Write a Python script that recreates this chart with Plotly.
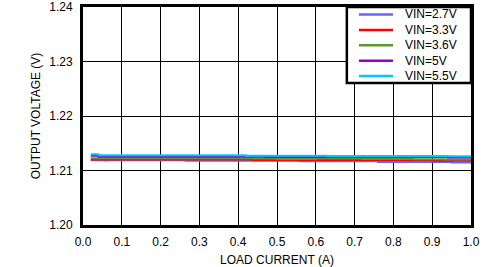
import plotly.graph_objects as go

names = ["VIN=2.7V", "VIN=3.3V", "VIN=3.6V", "VIN=5V", "VIN=5.5V"]
colors = ["#6464ff", "#ff0000", "#5f9632", "#9600c8", "#00c8ff"]

x_27 = [0.02, 0.054, 0.064, 0.265, 0.56, 0.76, 0.95, 1.0]
y_27 = [1.21188, 1.21182, 1.21188, 1.21180, 1.21168, 1.21158, 1.21148, 1.21148]

x_33 = [0.02, 0.438, 0.90, 1.0]
y_33 = [1.21200, 1.21192, 1.21180, 1.21180]

x_36 = [0.02, 0.44, 0.50, 0.60, 0.72, 0.85, 0.93, 1.0]
y_36 = [1.21225, 1.21218, 1.21212, 1.21218, 1.21212, 1.21206, 1.21200, 1.21200]

x_5 = [0.02, 0.04, 0.47, 0.94, 1.0]
y_5 = [1.21270, 1.21252, 1.21248, 1.21240, 1.21240]

x_55 = [0.02, 0.04, 0.42, 0.63, 0.94, 1.0]
y_55 = [1.21300, 1.21278, 1.21272, 1.21268, 1.21262, 1.21262]

series = [(x_27, y_27), (x_33, y_33), (x_36, y_36), (x_5, y_5), (x_55, y_55)]

x_ticks = [0.0, 0.1, 0.2, 0.3, 0.4, 0.5, 0.6, 0.7, 0.8, 0.9, 1.0]
x_tick_labels = ["0.0", "0.1", "0.2", "0.3", "0.4", "0.5", "0.6", "0.7", "0.8", "0.9", "1.0"]
y_ticks = [1.20, 1.21, 1.22, 1.23, 1.24]
y_tick_labels = ["1.20", "1.21", "1.22", "1.23", "1.24"]

fig = go.Figure()
for (xs, ys), n, c in zip(series, names, colors):
    fig.add_trace(go.Scatter(x=xs, y=ys, name=n, mode="lines", showlegend=False,
                             line=dict(color=c, width=2, shape="hv")))

font = dict(family="Liberation Sans, Arial, sans-serif", size=12, color="black")

# custom legend (paper coordinates) to match compact spacing
shapes = [dict(type="rect", xref="paper", yref="paper",
               x0=0.680, x1=1.0, y0=0.651, y1=1.0,
               fillcolor="white", line=dict(color="black", width=2.5), layer="above")]
annotations = []
y_top, dy = 0.9656, 0.0706
for i, (n, c) in enumerate(zip(names, colors)):
    yy = y_top - i * dy
    shapes.append(dict(type="line", xref="paper", yref="paper",
                       x0=0.7113, x1=0.7990, y0=yy, y1=yy,
                       line=dict(color=c, width=2.5), layer="above"))
    annotations.append(dict(xref="paper", yref="paper", x=0.8247, y=yy,
                            text=n, showarrow=False, xanchor="left", yanchor="middle",
                            font=font))

fig.update_layout(
    width=490, height=267,
    margin=dict(l=83, r=19, t=7, b=42),
    paper_bgcolor="white", plot_bgcolor="white",
    font=font,
    showlegend=False,
    shapes=shapes, annotations=annotations,
    xaxis=dict(range=[0, 1], tickvals=x_ticks, ticktext=x_tick_labels,
               showgrid=True, gridcolor="black", gridwidth=1,
               showline=True, linecolor="black", linewidth=3, mirror=True,
               ticks="", zeroline=False, automargin=False, ticklabelstandoff=4,
               ticklabeloverflow="allow",
               title=dict(text="LOAD CURRENT (A)", font=font, standoff=10)),
    yaxis=dict(range=[1.20, 1.24], tickvals=y_ticks, ticktext=y_tick_labels,
               showgrid=True, gridcolor="black", gridwidth=1,
               showline=True, linecolor="black", linewidth=3, mirror=True,
               ticks="", zeroline=False, ticklabelstandoff=5, automargin=False,
               ticklabeloverflow="allow",
               title=dict(text="OUTPUT VOLTAGE (V)", font=font, standoff=7)),
)
fig.write_html("out.html")
